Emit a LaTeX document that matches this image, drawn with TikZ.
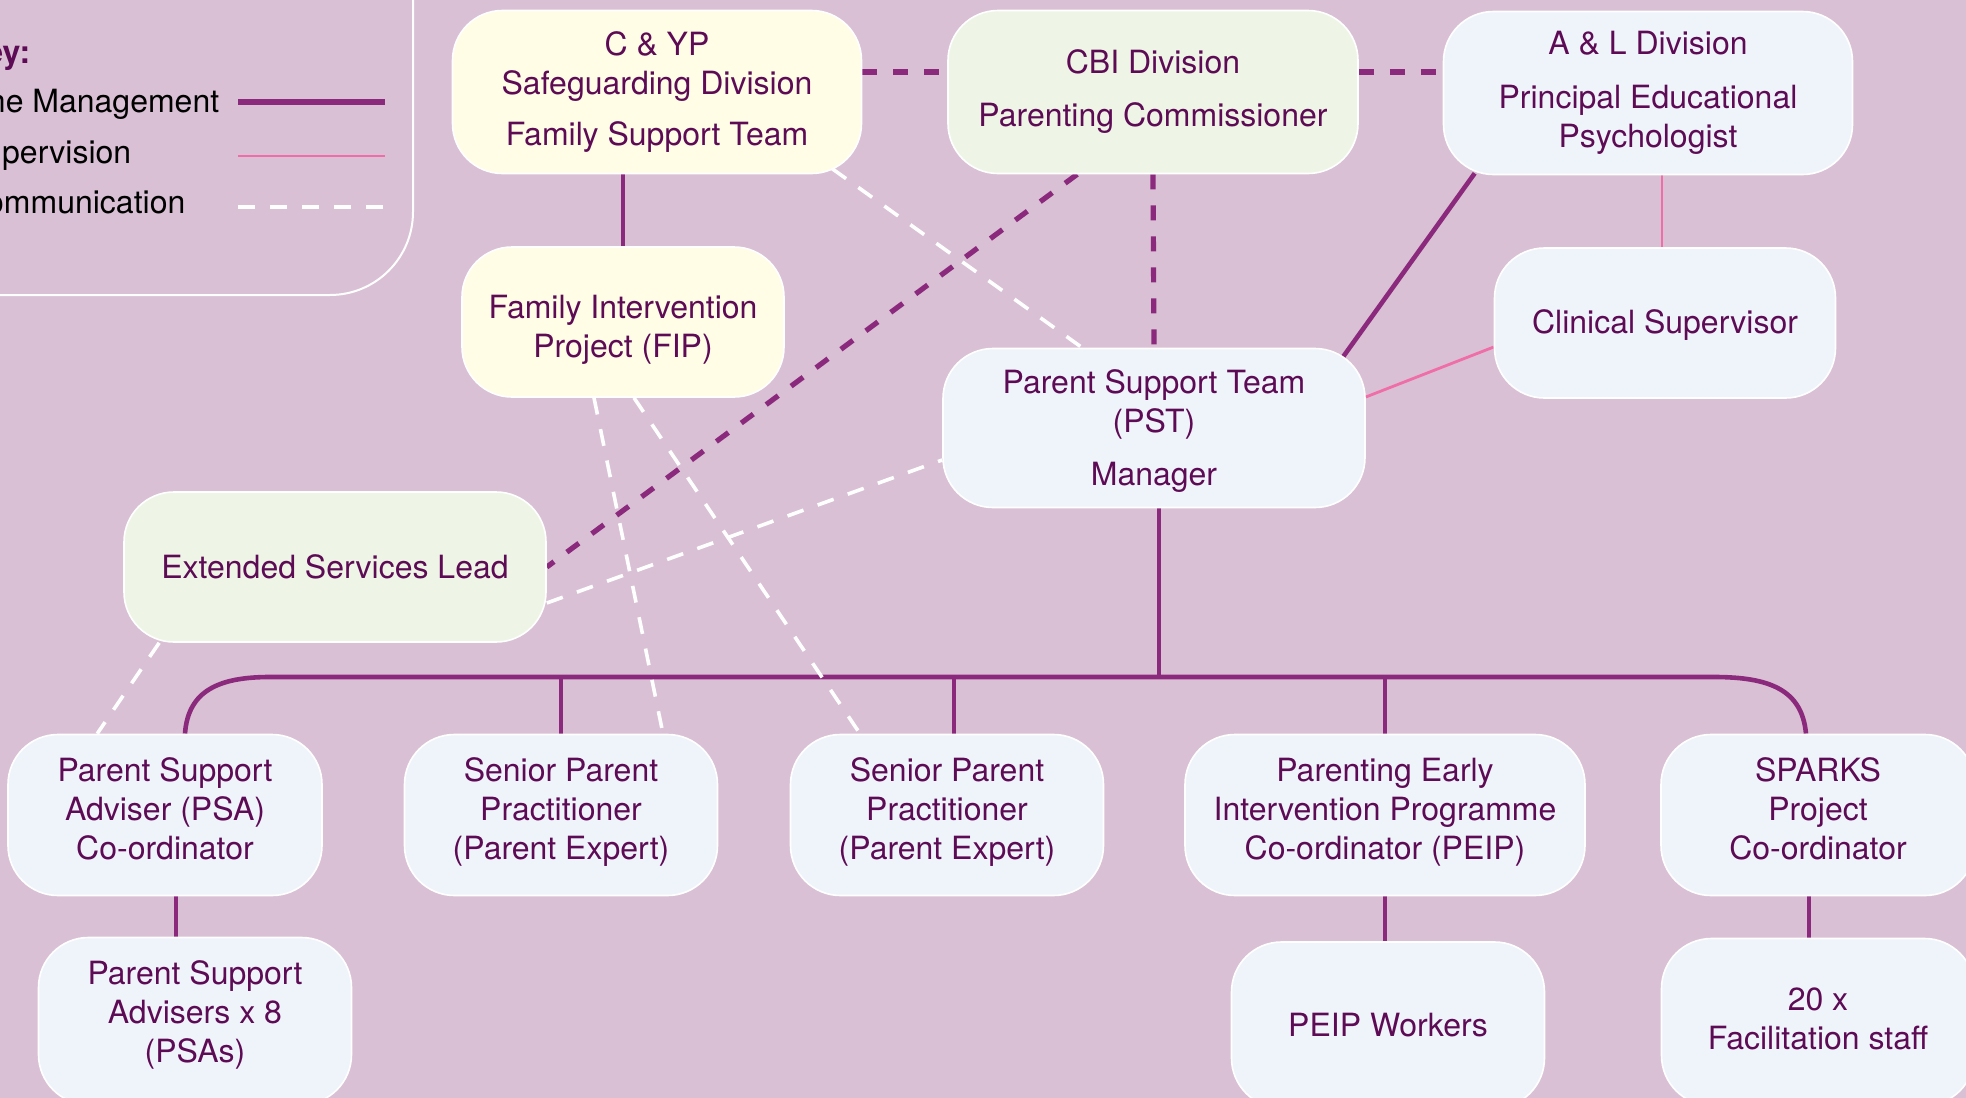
\documentclass[tikz,border=0pt]{standalone}
\usepackage{fontspec}
\setmainfont{TeX Gyre Heros}
\usetikzlibrary{calc}

\definecolor{bgc}{HTML}{D9C0D5}
\definecolor{mgmt}{HTML}{8B2A7D}
\definecolor{txt}{HTML}{5E0B55}
\definecolor{sup}{HTML}{F06EA8}
\definecolor{yel}{HTML}{FFFDE6}
\definecolor{grn}{HTML}{EEF5E6}
\definecolor{blu}{HTML}{EFF4FB}

% invisible struts that set the height of a first line / depth of a last line
\newcommand\toph[1]{\rule{0pt}{#1}}
\newcommand\botd[1]{\rule[-#1]{0pt}{0pt}}

\pgfdeclarelayer{background}
\pgfsetlayers{background,main}

\begin{document}
\begin{tikzpicture}[
  x=0.5pt, y=-0.5pt,
  font=\fontsize{16}{19.5}\selectfont,
  box/.style={draw=white, line width=0.8pt, rounded corners=25pt,
    align=center, text=txt, inner sep=0pt},
  mgmtline/.style={draw=mgmt, line width=2.3pt},
  supline/.style={draw=sup, line width=1.4pt},
  cmdash/.style={draw=mgmt, line width=2.6pt, dash pattern=on 7.5pt off 8pt},
  wdash/.style={draw=white, line width=1.8pt, dash pattern=on 8.5pt off 7.5pt},
  keytext/.style={anchor=base west, text=black},
]
\useasboundingbox (0,0) rectangle (1966,1098);
\clip (0,0) rectangle (1966,1098);

% page colour
\begin{pgfonlayer}{background}
  \fill[bgc] (0,0) rectangle (1966,1098);
\end{pgfonlayer}

% ---- key ----
\draw[white, line width=1pt, rounded corners=41.5pt] (-300,-300) rectangle (413,295);
\node[keytext, text=txt, font=\fontsize{16}{19.5}\selectfont\bfseries] (keyhead) at (-44,63) {Key:};
\node[keytext] (keymgmt) at (-44,112) {Line Management};
\node[keytext] (keysup) at (-44,163) {Supervision};
\node[keytext] (keycomm) at (-44,213) {Communication};
\coordinate (km1) at (238,102); \coordinate (km2) at (385,102);
\coordinate (ks1) at (238,156); \coordinate (ks2) at (385,156);
\coordinate (kc1) at (238,207); \coordinate (kc2) at (385,207);
\draw[mgmtline, line width=2.6pt] (km1) -- (km2);
\draw[supline] (ks1) -- (ks2);
\draw[wdash, line width=2pt] (kc1) -- (kc2);

% ---- top row ----
\node[box, fill=yel, minimum width=204.5pt, minimum height=81.5pt] (cyp) at (657,92)
  {C \& YP\\Safeguarding Division\\[6pt]Family Support Team};
\node[box, fill=grn, minimum width=205pt, minimum height=81.5pt] (cbi) at (1153,92)
  {CBI Division\\[7pt]Parenting Commissioner};
\node[box, fill=blu, minimum width=204.5pt, minimum height=81.5pt] (al) at (1648,93)
  {A \& L Division\\[7.5pt]Principal Educational\\Psychologist};

% ---- second row ----
\node[box, fill=yel, minimum width=161pt, minimum height=75pt] (fip) at (623,322)
  {\toph{19.6pt}Family Intervention\\Project (FIP)};
\node[box, fill=blu, minimum width=170.5pt, minimum height=75pt] (clin) at (1665,323)
  {\toph{14.1pt}Clinical Supervisor};
\node[box, fill=blu, minimum width=211pt, minimum height=79.5pt] (pst) at (1154,428)
  {\toph{15.4pt}Parent Support Team\\(PST)\\[7pt]Manager};
\node[box, fill=grn, minimum width=211pt, minimum height=75pt] (esl) at (335,567)
  {Extended Services Lead};

% ---- team row ----
\node[box, fill=blu, minimum width=157pt, minimum height=80.5pt] (psa) at (165,815)
  {Parent Support\\Adviser (PSA)\\Co-ordinator\botd{6.4pt}};
\node[box, fill=blu, minimum width=156.5pt, minimum height=80.5pt] (spp1) at (561,815)
  {Senior Parent\\Practitioner\\(Parent Expert)\botd{6.4pt}};
\node[box, fill=blu, minimum width=156.5pt, minimum height=80.5pt] (spp2) at (947,815)
  {Senior Parent\\Practitioner\\(Parent Expert)\botd{6.4pt}};
\node[box, fill=blu, minimum width=200pt, minimum height=80.5pt] (peip) at (1385,815)
  {Parenting Early\\Intervention Programme\\Co-ordinator (PEIP)\botd{6.4pt}};
\node[box, fill=blu, minimum width=157pt, minimum height=80.5pt] (sparks) at (1818,815)
  {SPARKS\\Project\\Co-ordinator\botd{6.4pt}};

% ---- bottom row ----
\node[box, fill=blu, minimum width=156.5pt, minimum height=83.5pt] (psas) at (195,1021)
  {Parent Support\\Advisers x 8\\(PSAs)\botd{9.4pt}};
\node[box, fill=blu, minimum width=156.5pt, minimum height=83pt] (peipw) at (1388,1025)
  {PEIP Workers};
\node[box, fill=blu, minimum width=156.5pt, minimum height=83.5pt] (facil) at (1818,1022)
  {20 x\\Facilitation staff\botd{3.2pt}};

% ---- connectors, kept behind the boxes ----
\coordinate (bus) at (1159,677);
\begin{pgfonlayer}{background}
  % communication between divisions
  \draw[cmdash] ([yshift=10pt]cyp.east) -- ([yshift=10pt]cbi.west);
  \draw[cmdash] ([yshift=10pt]cbi.east) -- ([yshift=10.5pt]al.west);
  \draw[cmdash] (cbi.south) -- (pst.north);
  \draw[cmdash] ([xshift=65pt]cbi.south west) -- (esl.east);
  % line management
  \draw[mgmtline] (fip.north |- cyp.south) -- (fip.north);
  \draw[mgmtline] ([xshift=16pt,yshift=1pt]al.south west) -- ([xshift=-11.5pt,yshift=-4.75pt]pst.north east);
  \draw[mgmtline] ([xshift=2.5pt]pst.south) -- (bus);
  \draw[mgmtline] ([xshift=10pt]psa.north) .. controls (188,690) and (220,677) .. (270,677)
    -- (1714,677) .. controls (1770,677) and (1802,690) .. ([xshift=-6pt]sparks.north);
  \draw[mgmtline] (spp1.north |- bus) -- (spp1.north);
  \draw[mgmtline] ([xshift=3.5pt]spp2.north |- bus) -- ([xshift=3.5pt]spp2.north);
  \draw[mgmtline] (peip.north |- bus) -- (peip.north);
  \draw[mgmtline] ([xshift=5.5pt]psa.south) -- ([xshift=5.5pt]psa.south |- psas.north);
  \draw[mgmtline] (peip.south) -- (peip.south |- peipw.north);
  \draw[mgmtline] ([xshift=-4.5pt]sparks.south) -- ([xshift=-4.5pt]sparks.south |- facil.north);
  % supervision
  \draw[supline] ([xshift=-1.5pt]clin.north |- al.south) -- ([xshift=-1.5pt]clin.north);
  \draw[supline] ([yshift=-12pt]clin.west) -- ([yshift=15.5pt]pst.east);
  % communication
  \draw[wdash] ([xshift=-15pt,yshift=2.75pt]cyp.south east) -- ([xshift=70pt]pst.north west);
  \draw[wdash] ([yshift=-18pt]esl.east) -- ([yshift=-16pt]pst.west);
  \draw[wdash] ([xshift=18pt]esl.south west) -- ([xshift=45pt]psa.north west);
  \draw[wdash] ([xshift=-14.5pt]fip.south) -- ([xshift=51pt]spp1.north);
  \draw[wdash] ([xshift=5.5pt]fip.south) -- ([xshift=-43.5pt]spp2.north);
\end{pgfonlayer}
\end{tikzpicture}
\end{document}
